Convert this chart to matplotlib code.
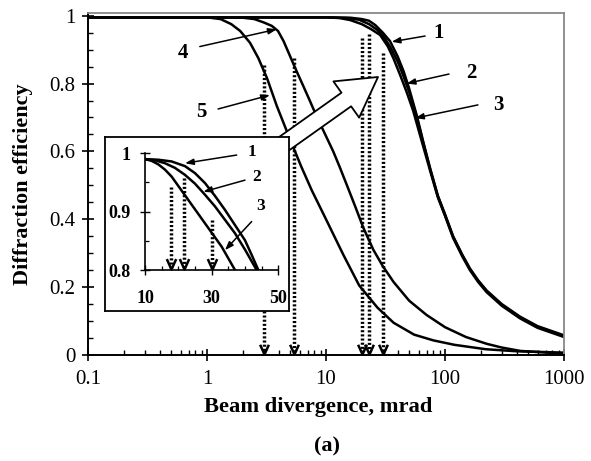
import matplotlib.pyplot as plt
from matplotlib.path import Path
from matplotlib.ticker import MultipleLocator, FixedLocator, NullFormatter, LogLocator

plt.rcParams['font.family'] = ['Liberation Serif', 'DejaVu Serif']

# main panel: beam divergence (mrad) vs diffraction efficiency
c1_x = [0.1, 10, 16, 20, 23, 26, 30, 34.5, 40, 45, 50, 58, 66, 75, 87, 100, 117, 140, 162, 190, 224, 300, 427, 600, 1000]
c1_y = [0.995, 0.995, 0.994, 0.99, 0.985, 0.972, 0.95, 0.925, 0.88, 0.835, 0.785, 0.705, 0.625, 0.55, 0.47, 0.415,
        0.35, 0.295, 0.255, 0.22, 0.19, 0.15, 0.113, 0.085, 0.058]
c2_x = [0.1, 10, 15, 19, 23, 27, 31, 35, 40, 45, 50, 58, 66, 75, 87, 100, 117, 140, 162, 190, 224, 300, 427, 600, 1000]
c2_y = [0.995, 0.995, 0.993, 0.988, 0.975, 0.958, 0.935, 0.905, 0.865, 0.82, 0.775, 0.70, 0.622, 0.548, 0.468, 0.413,
        0.348, 0.293, 0.253, 0.218, 0.188, 0.148, 0.111, 0.083, 0.056]
c3_x = [0.1, 10, 13, 16, 20, 24, 28.5, 33, 36.8, 42, 47.6, 54, 62, 75, 87, 100, 117, 140, 162, 190, 224, 300, 427, 600, 1000]
c3_y = [0.995, 0.995, 0.993, 0.987, 0.975, 0.96, 0.943, 0.91, 0.875, 0.825, 0.775, 0.72, 0.645, 0.543, 0.465, 0.41,
        0.345, 0.29, 0.25, 0.215, 0.185, 0.145, 0.108, 0.08, 0.053]
c4_x = [0.1, 1, 2.0, 2.5, 3.0, 3.5, 3.95, 4.4, 5.0, 5.6, 6.4, 7.3, 8.3, 10, 11.5, 13, 15, 17.5, 20.6, 25, 30, 37, 50,
        70, 100, 150, 224, 300, 430, 1000]
c4_y = [0.995, 0.995, 0.994, 0.99, 0.98, 0.97, 0.955, 0.925, 0.88, 0.84, 0.795, 0.75, 0.705, 0.645, 0.60, 0.555, 0.50,
        0.44, 0.375, 0.31, 0.262, 0.215, 0.16, 0.118, 0.082, 0.053, 0.033, 0.022, 0.012, 0.004]
c5_x = [0.1, 0.5, 1.0, 1.3, 1.6, 1.9, 2.3, 2.7, 3.2, 3.85, 4.5, 5.2, 6.2, 7.6, 10, 14, 19, 27, 37, 55, 80, 120, 220,
        400, 1000]
c5_y = [0.995, 0.995, 0.995, 0.99, 0.975, 0.955, 0.92, 0.875, 0.815, 0.735, 0.675, 0.62, 0.555, 0.485, 0.40, 0.295,
        0.205, 0.14, 0.095, 0.06, 0.043, 0.03, 0.017, 0.011, 0.007]

# dotted drop lines: divergence where they hit the axis, and where they start
drop_x = [3.0, 5.4, 20, 23, 30]
drop_top = [0.855, 0.874, 0.935, 0.945, 0.89]

# inset: zoom of curves 1-3 (10-50 mrad, 0.8-1)
in1_x = [10, 14, 18, 22, 25, 28, 31, 34, 37, 40, 42, 44]
in1_y = [0.99, 0.989, 0.986, 0.978, 0.966, 0.949, 0.927, 0.903, 0.877, 0.851, 0.826, 0.80]
in2_x = [10, 13, 16, 19, 22, 25, 28, 31, 34, 37, 40, 43.5]
in2_y = [0.99, 0.988, 0.983, 0.975, 0.963, 0.948, 0.929, 0.909, 0.886, 0.863, 0.835, 0.80]
in3_x = [10, 12, 14, 16, 18, 20.5, 23, 25.5, 28, 30.5, 33, 37]
in3_y = [0.99, 0.987, 0.981, 0.972, 0.96, 0.94, 0.92, 0.90, 0.88, 0.86, 0.84, 0.80]
in_drop_x = [17.7, 21.7, 30.2]
in_drop_top = [0.943, 0.957, 0.886]

W, H = 591, 461
fig = plt.figure(figsize=(W / 100, H / 100), dpi=100)

def frac(x0, y0, x1, y1):
    # pixel box (top-left origin) -> figure fraction rect
    return [x0 / W, 1 - y1 / H, (x1 - x0) / W, (y1 - y0) / H]

vee = Path([(-0.9, 2), (0, 0), (0.9, 2)], [Path.MOVETO, Path.LINETO, Path.LINETO])
dots = (0, (0.6, 0.6))

ax = fig.add_axes(frac(88, 13.3, 564, 355))
for xs, ys in [(c1_x, c1_y), (c2_x, c2_y), (c3_x, c3_y), (c4_x, c4_y), (c5_x, c5_y)]:
    ax.plot(xs, ys, color='black', lw=1.8)
for x, top in zip(drop_x, drop_top):
    ax.plot([x, x], [top, 0.012], color='black', lw=2.5, linestyle=dots, dash_capstyle='butt')
    ax.plot([x], [0.004], marker=vee, ms=14, mfc='none', mec='black', mew=1.8, clip_on=False)

ax.set_xscale('log')
ax.set_xlim(0.1, 1000)
ax.set_ylim(0, 1.007)
ax.xaxis.set_major_locator(FixedLocator([0.1, 1, 10, 100, 1000]))
ax.set_xticklabels(['0.1', '1', '10', '100', '1000'])
ax.xaxis.set_minor_locator(LogLocator(base=10, subs=range(2, 10)))
ax.xaxis.set_minor_formatter(NullFormatter())
ax.set_yticks([0, 0.2, 0.4, 0.6, 0.8, 1.0])
ax.set_yticklabels(['0', '0.2', '0.4', '0.6', '0.8', '1'])
ax.yaxis.set_minor_locator(MultipleLocator(0.05))
ax.tick_params(which='major', direction='inout', length=8, width=1.2, labelsize=15)
ax.tick_params(axis='x', which='major', pad=7)
ax.tick_params(axis='y', which='major', pad=5)
ax.tick_params(which='minor', direction='in', length=3.5, width=1.0)
for s in ['left', 'bottom']:
    ax.spines[s].set_linewidth(1.4)
for s in ['top', 'right']:
    ax.spines[s].set_color('#888888')
    ax.spines[s].set_linewidth(1.3)
ax.set_xlabel('Beam divergence, mrad', fontsize=16.2, fontweight='bold', va='center')
ax.xaxis.set_label_coords(0.484, -0.152)
ax.set_ylabel('Diffraction efficiency', fontsize=16, fontweight='bold', va='center')
ax.yaxis.set_label_coords(-0.137, 0.5)

# curve labels with thin arrows
arrow_kw = dict(arrowstyle='-|>,head_length=0.5,head_width=0.18', color='black', lw=1.1,
                shrinkA=0, shrinkB=0)
labels = [('1', (89, 0.949), (68, 0.940), (35.6, 0.923)),
          ('2', (167, 0.832), (108, 0.828), (47.6, 0.80)),
          ('3', (279, 0.737), (189, 0.737), (56, 0.698)),
          ('4', (0.625, 0.889), (0.87, 0.909), (3.86, 0.96)),
          ('5', (0.90, 0.717), (1.24, 0.725), (3.38, 0.766))]
for txt, pos, tail, tip in labels:
    ax.annotate('', xy=tip, xytext=tail, arrowprops=arrow_kw)
    ax.text(pos[0], pos[1], txt, fontsize=15, fontweight='bold', ha='center', va='center')

# big hollow arrow from the inset towards curves 1-3
ax.annotate('', xy=(378, H - 77), xytext=(278, H - 148), xycoords='figure pixels',
            textcoords='figure pixels',
            arrowprops=dict(arrowstyle='simple,head_length=28,head_width=32,tail_width=12',
                            mutation_scale=1, fc='white', ec='black', lw=1.3,
                            shrinkA=0, shrinkB=0), zorder=5)

fig.text(326.7 / W, 1 - 446.7 / H, '(a)', fontsize=16, fontweight='bold', ha='center', va='center')

# inset frame
box = fig.add_axes(frac(105, 137, 289, 311))
box.set_xticks([])
box.set_yticks([])
for s in box.spines.values():
    s.set_linewidth(1.3)

axi = fig.add_axes(frac(145, 153.3, 278.3, 270))
axi.patch.set_alpha(0)
for xs, ys in [(in1_x, in1_y), (in2_x, in2_y), (in3_x, in3_y)]:
    axi.plot(xs, ys, color='black', lw=1.8)
for x, top in zip(in_drop_x, in_drop_top):
    axi.plot([x, x], [top, 0.804], color='black', lw=2.5, linestyle=dots, dash_capstyle='butt')
    axi.plot([x], [0.802], marker=vee, ms=15, mfc='none', mec='black', mew=1.8, clip_on=False)
axi.set_xlim(10, 50)
axi.set_ylim(0.8, 1.0)
axi.set_xticks([10, 30, 50])
axi.set_xticklabels(['10', '30', '50'], fontweight='bold')
axi.set_yticks([0.8, 0.9, 1.0])
axi.set_yticklabels(['0.8', '0.9', '1'], fontweight='bold')
axi.xaxis.set_minor_locator(MultipleLocator(5))
axi.yaxis.set_minor_locator(MultipleLocator(0.05))
axi.tick_params(which='major', direction='inout', length=7, width=1.0, labelsize=13)
axi.tick_params(axis='x', which='major', pad=11)
axi.tick_params(axis='y', which='major', pad=7)
axi.tick_params(which='minor', direction='in', length=3, width=0.9)
axi.spines['top'].set_visible(False)
axi.spines['right'].set_visible(False)
for s in ['left', 'bottom']:
    axi.spines[s].set_linewidth(1.2)

in_labels = [('1', (42.0, 1.003), (37.5, 0.997), (22.0, 0.983)),
             ('2', (43.5, 0.960), (40.0, 0.954), (27.5, 0.934)),
             ('3', (44.8, 0.910), (42.0, 0.883), (34.0, 0.834))]
for txt, pos, tail, tip in in_labels:
    axi.annotate('', xy=tip, xytext=tail, arrowprops=arrow_kw, annotation_clip=False)
    axi.text(pos[0], pos[1], txt, fontsize=12.5, fontweight='bold', ha='center', va='center',
             clip_on=False)

fig.savefig('out.png', dpi=100)
